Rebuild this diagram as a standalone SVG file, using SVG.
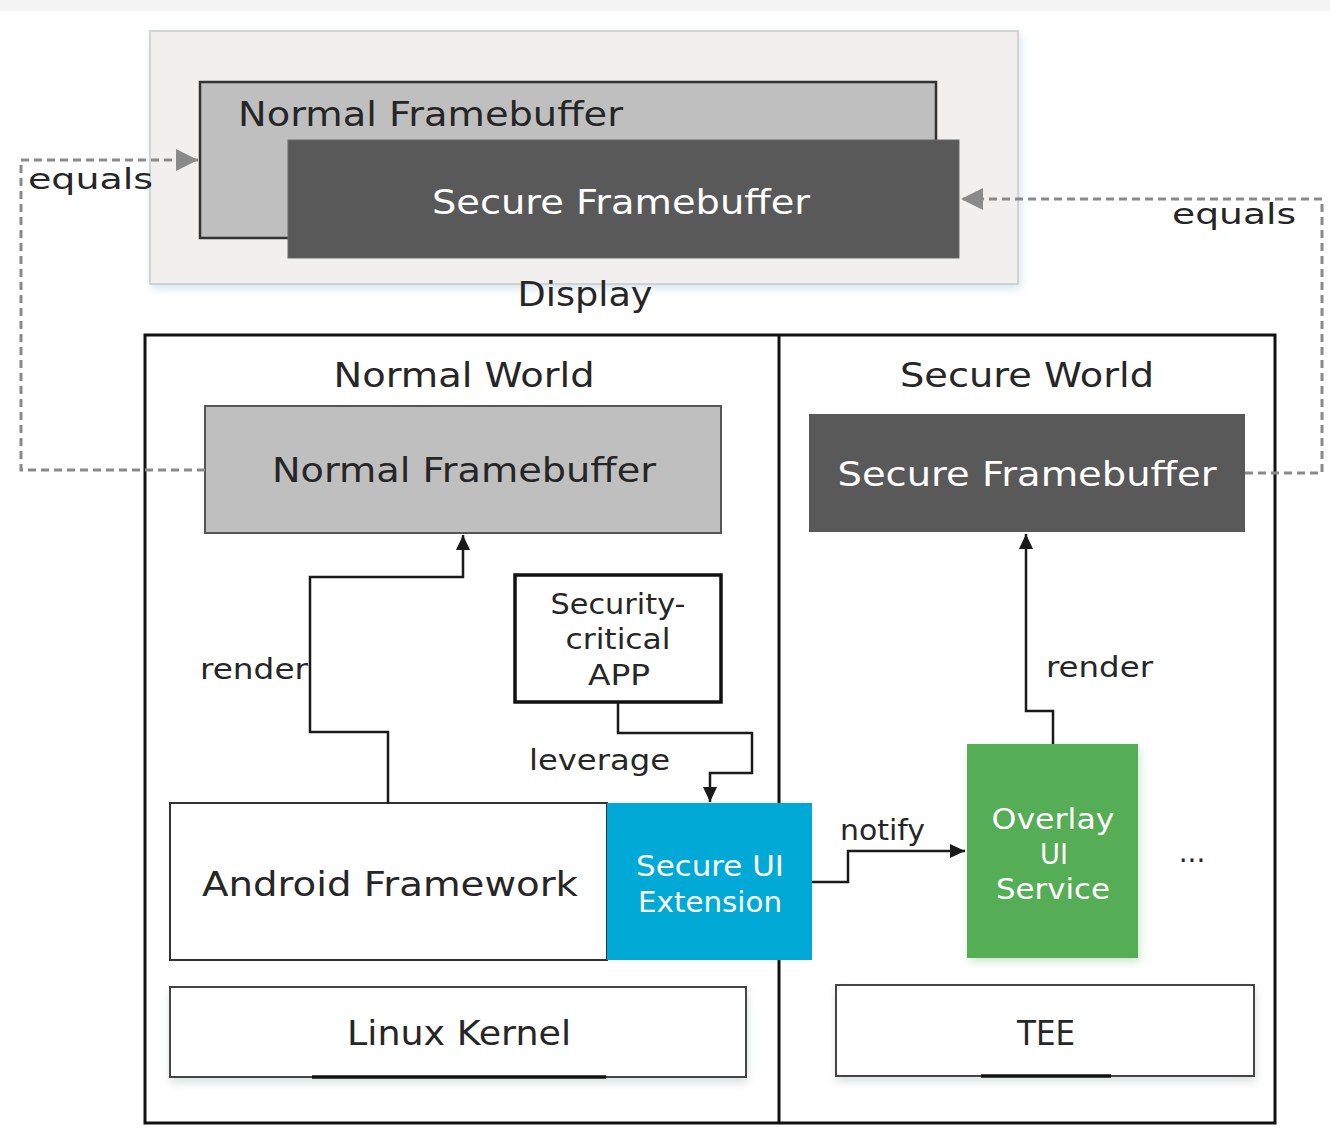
<svg xmlns="http://www.w3.org/2000/svg" width="1330" height="1130" viewBox="0 0 1330 1130">
  <style>
    text { font-family: "DejaVu Sans", "Liberation Sans", sans-serif; fill: #262626; }
    .big { font-size: 34px; }
    .mid { font-size: 29px; }
    .lbl { font-size: 28px; }
    .white { fill: #ffffff; }
    .dash { fill: none; stroke: #8a8a8a; stroke-width: 3; stroke-dasharray: 8 5; }
    .link { fill: none; stroke: #1a1a1a; stroke-width: 2.5; }
  </style>
  <defs>
    <marker id="grayHead" markerUnits="userSpaceOnUse" markerWidth="24" markerHeight="22" refX="22" refY="11" orient="auto">
      <path d="M0,0 L22,11 L0,22 z" fill="#8a8a8a"/>
    </marker>
    <marker id="blackHead" markerUnits="userSpaceOnUse" markerWidth="16" markerHeight="16" refX="15" refY="7" orient="auto">
      <path d="M0,0 L15,7 L0,14 z" fill="#1a1a1a"/>
    </marker>
    <filter id="softShadow" x="-5%" y="-10%" width="112%" height="130%">
      <feGaussianBlur in="SourceAlpha" stdDeviation="4"/>
      <feOffset dx="2" dy="4" result="b"/>
      <feFlood flood-color="#9fc6da" flood-opacity="0.45"/>
      <feComposite in2="b" operator="in"/>
      <feMerge><feMergeNode/><feMergeNode in="SourceGraphic"/></feMerge>
    </filter>
    <filter id="greyShadow" x="-5%" y="-10%" width="112%" height="140%">
      <feGaussianBlur in="SourceAlpha" stdDeviation="4"/>
      <feOffset dx="1" dy="5" result="b"/>
      <feFlood flood-color="#b9c7c4" flood-opacity="0.5"/>
      <feComposite in2="b" operator="in"/>
      <feMerge><feMergeNode/><feMergeNode in="SourceGraphic"/></feMerge>
    </filter>
    <filter id="greenShadow" x="-10%" y="-10%" width="125%" height="125%">
      <feGaussianBlur in="SourceAlpha" stdDeviation="4"/>
      <feOffset dx="2" dy="4" result="b"/>
      <feFlood flood-color="#9ccf9c" flood-opacity="0.5"/>
      <feComposite in2="b" operator="in"/>
      <feMerge><feMergeNode/><feMergeNode in="SourceGraphic"/></feMerge>
    </filter>
  </defs>

  <rect x="0" y="0" width="1330" height="1130" fill="#ffffff"/>
  <rect x="0" y="0" width="1330" height="11" fill="#f4f4f4"/>

  <!-- Display panel with both framebuffers -->
  <g id="display">
    <rect x="150" y="31" width="868" height="253" fill="#f1f0ee" stroke="#c9c9c9" stroke-width="1.5" filter="url(#softShadow)"/>
    <text x="585" y="306" text-anchor="middle" class="big" textLength="135" lengthAdjust="spacingAndGlyphs">Display</text>
  </g>
  <g id="display-normal-fb">
    <rect x="200" y="82" width="736" height="156" fill="#bfbfbf" stroke="#333333" stroke-width="2.5"/>
    <text x="238" y="126" class="big" textLength="385" lengthAdjust="spacingAndGlyphs">Normal Framebuffer</text>
  </g>
  <g id="display-secure-fb">
    <rect x="288" y="140" width="671" height="118" fill="#595959" stroke="#6a6a6a" stroke-width="1"/>
    <text x="621" y="214" text-anchor="middle" class="big white" textLength="378" lengthAdjust="spacingAndGlyphs">Secure Framebuffer</text>
  </g>

  <!-- World containers -->
  <g id="worlds">
    <rect x="145" y="335" width="1130" height="788" fill="none" stroke="#111111" stroke-width="3"/>
    <line x1="779" y1="335" x2="779" y2="1123" stroke="#111111" stroke-width="3"/>
    <text x="464" y="387" text-anchor="middle" class="big" textLength="261" lengthAdjust="spacingAndGlyphs">Normal World</text>
    <text x="1027" y="387" text-anchor="middle" class="big" textLength="254" lengthAdjust="spacingAndGlyphs">Secure World</text>
  </g>

  <g id="normal-fb">
    <rect x="205" y="406" width="516" height="127" fill="#bfbfbf" stroke="#555555" stroke-width="2"/>
    <text x="464" y="482" text-anchor="middle" class="big" textLength="384" lengthAdjust="spacingAndGlyphs">Normal Framebuffer</text>
  </g>

  <g id="secure-fb">
    <rect x="809" y="414" width="436" height="118" fill="#595959"/>
    <text x="1027" y="486" text-anchor="middle" class="big white" textLength="379" lengthAdjust="spacingAndGlyphs">Secure Framebuffer</text>
  </g>

  <g id="security-critical-app">
    <rect x="515" y="575" width="206" height="127" fill="#ffffff" stroke="#111111" stroke-width="3.5"/>
    <text x="618" y="614" text-anchor="middle" class="mid" textLength="135" lengthAdjust="spacingAndGlyphs">Security-</text>
    <text x="618" y="649" text-anchor="middle" class="mid" textLength="105" lengthAdjust="spacingAndGlyphs">critical</text>
    <text x="619" y="685" text-anchor="middle" class="mid" textLength="62" lengthAdjust="spacingAndGlyphs">APP</text>
  </g>

  <g id="android-framework">
    <rect x="170" y="803" width="437" height="157" fill="#ffffff" stroke="#333333" stroke-width="2"/>
    <text x="390" y="896" text-anchor="middle" class="big" textLength="376" lengthAdjust="spacingAndGlyphs">Android Framework</text>
  </g>

  <g id="secure-ui-extension">
    <rect x="607" y="803" width="205" height="157" fill="#00a9d6"/>
    <text x="710" y="876" text-anchor="middle" class="mid white" textLength="148" lengthAdjust="spacingAndGlyphs">Secure UI</text>
    <text x="710" y="912" text-anchor="middle" class="mid white" textLength="144" lengthAdjust="spacingAndGlyphs">Extension</text>
  </g>

  <g id="overlay-ui-service">
    <rect x="967" y="744" width="171" height="214" fill="#55ad55" filter="url(#greenShadow)"/>
    <text x="1053" y="829" text-anchor="middle" class="mid white" textLength="123" lengthAdjust="spacingAndGlyphs">Overlay</text>
    <text x="1054" y="864" text-anchor="middle" class="mid white" textLength="28" lengthAdjust="spacingAndGlyphs">UI</text>
    <text x="1053" y="899" text-anchor="middle" class="mid white" textLength="114" lengthAdjust="spacingAndGlyphs">Service</text>
  </g>

  <g id="more-services">
    <text x="1192" y="862" text-anchor="middle" class="lbl">...</text>
  </g>

  <g id="linux-kernel">
    <rect x="170" y="987" width="576" height="90" fill="#ffffff" stroke="#444444" stroke-width="2" filter="url(#greyShadow)"/>
    <line x1="312" y1="1077" x2="606" y2="1077" stroke="#111111" stroke-width="3.5"/>
    <text x="459" y="1045" text-anchor="middle" class="big" textLength="224" lengthAdjust="spacingAndGlyphs">Linux Kernel</text>
  </g>

  <g id="tee">
    <rect x="836" y="985" width="418" height="91" fill="#ffffff" stroke="#444444" stroke-width="2" filter="url(#greyShadow)"/>
    <line x1="981" y1="1076" x2="1111" y2="1076" stroke="#111111" stroke-width="3.5"/>
    <text x="1046" y="1045" text-anchor="middle" class="big" textLength="58" lengthAdjust="spacingAndGlyphs">TEE</text>
  </g>

  <!-- Connectors -->
  <g id="connectors">
    <!-- framebuffer equivalence links -->
    <path class="dash" d="M205,470 H21 V160 H198" marker-end="url(#grayHead)"/>
    <path class="dash" d="M1245,473 H1322 V199 H961" marker-end="url(#grayHead)"/>
    <!-- render (normal world) -->
    <path class="link" d="M388,803 V732 H310 V577 H463 V535" marker-end="url(#blackHead)"/>
    <!-- leverage -->
    <path class="link" d="M618,702 V733 H752 V773 H710 V802" marker-end="url(#blackHead)"/>
    <!-- notify -->
    <path class="link" d="M812,882 H848 V851 H965" marker-end="url(#blackHead)"/>
    <!-- render (secure world) -->
    <path class="link" d="M1053,744 V711 H1026 V534" marker-end="url(#blackHead)"/>

    <text x="28" y="189" class="lbl" textLength="125" lengthAdjust="spacingAndGlyphs">equals</text>
    <text x="1172" y="224" class="lbl" textLength="124" lengthAdjust="spacingAndGlyphs">equals</text>
    <text x="200" y="679" class="lbl" textLength="108" lengthAdjust="spacingAndGlyphs">render</text>
    <text x="529" y="770" class="lbl" textLength="141" lengthAdjust="spacingAndGlyphs">leverage</text>
    <text x="840" y="840" class="lbl" textLength="85" lengthAdjust="spacingAndGlyphs">notify</text>
    <text x="1046" y="677" class="lbl" textLength="107" lengthAdjust="spacingAndGlyphs">render</text>
  </g>
</svg>
